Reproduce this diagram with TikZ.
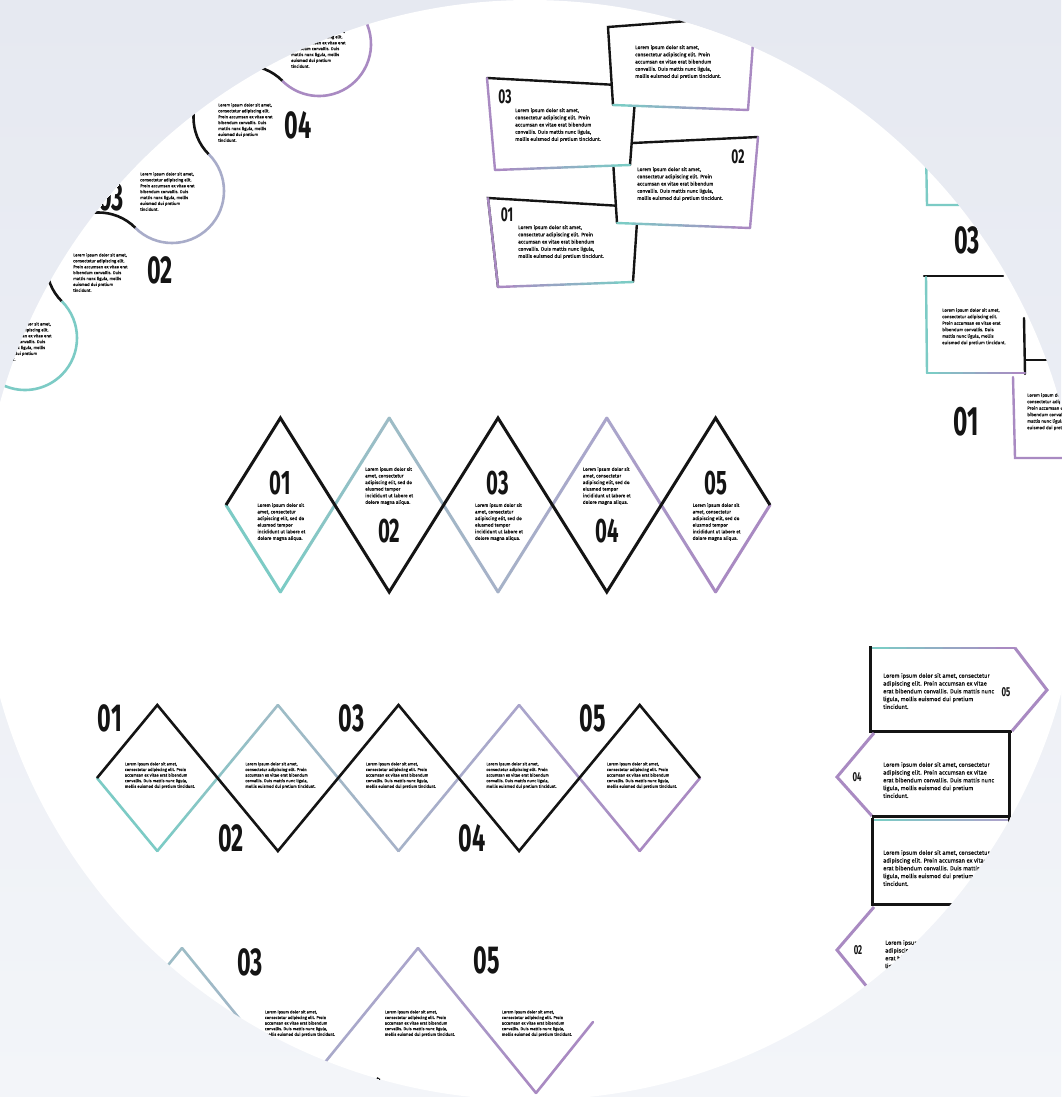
\documentclass[tikz,border=0pt]{standalone}
\usepackage{fontspec}
\setmainfont{Fira Sans}
\newfontfamily\parafont{Fira Sans}[FakeBold=0.5]
\usetikzlibrary{calc}
\definecolor{bgtop}{HTML}{E6E9F1}
\definecolor{bgbot}{HTML}{F3F5F9}
\definecolor{ink}{HTML}{141414}
\definecolor{txt}{HTML}{0E0E0E}
\definecolor{cteal}{HTML}{7CCBC5}
\definecolor{ctg}{HTML}{9DBCC6}
\definecolor{cslate}{HTML}{A6B2C8}
\definecolor{clav}{HTML}{AAA5CB}
\definecolor{cpur}{HTML}{A98AC2}
\newcommand\gradline[5][2.5]{%
  \foreach \grI in {0,...,7}{%
    \pgfmathsetmacro\grA{\grI/8}%
    \pgfmathsetmacro\grB{(\grI+1)/8}%
    \pgfmathtruncatemacro\grP{100-\grI*100/7}%
    \draw[line width=#1pt, line cap=round, draw=#4!\grP!#5] ($#2!\grA!#3$) -- ($#2!\grB!#3$);
  }%
}
\newcommand\bignum[2]{\fontsize{#1}{#1}\selectfont\bfseries\scalebox{0.6}[1]{#2}}
\newcommand\lipA{Lorem ipsum dolor sit amet,\\consectetur adipiscing elit. Proin\\accumsan ex vitae erat bibendum\\convallis. Duis mattis nunc ligula,\\mollis euismod dui pretium tincidunt.}
\newcommand\lipB{Lorem ipsum dolor sit\\amet, consectetur\\adipiscing elit, sed do\\eiusmod tempor\\incididunt ut labore et\\dolore magna aliqua.}
\newcommand\lipC{Lorem ipsum dolor sit amet,\\consectetur adipiscing elit.\\Proin accumsan ex vitae erat\\bibendum convallis. Duis\\mattis nunc ligula, mollis\\euismod dui pretium\\tincidunt.}
\newcommand\lipD{Lorem ipsum dolor sit amet,\\consectetur adipiscing elit.\\Proin accumsan ex vitae erat\\bibendum convallis. Duis\\mattis nunc ligula, mollis\\euismod dui pretium tincidunt.}
\newcommand\lipE{Lorem ipsum dolor sit amet, consectetur\\adipiscing elit. Proin accumsan ex vitae\\erat bibendum convallis. Duis mattis nunc\\ligula, mollis euismod dui pretium\\tincidunt.}
\tikzset{
  para/.style={inner sep=0pt, align=left, text=txt},
  numlbl/.style={inner sep=0pt, text=ink},
  blkline/.style={draw=ink, line width=2.6pt},
  boxline/.style={line width=2.4pt, line cap=round},
}
\begin{document}
\begin{tikzpicture}[x=1pt, y=-1pt]
\useasboundingbox (0,0) rectangle (1061,1097);
\shade[top color=bgtop, bottom color=bgbot] (0,0) rectangle (1061,1097);
\begin{scope}
\clip (530,550) circle[radius=550];
\fill[white] (-20,-20) rectangle (1100,1120);

% ---------- top-left chain of circles ----------
\draw[cpur, line width=2.6pt] (319,44) ++(-100:52) arc[start angle=-100, end angle=135, radius=52];
\draw[blkline] (245.5,117.5) ++(-45:52) arc[start angle=-45, end angle=-225, radius=52];
\draw[cslate!50!clav, line width=2.6pt] (172,191) ++(-45:52) arc[start angle=-45, end angle=135, radius=52];
\draw[blkline] (98.5,264.5) ++(-45:52) arc[start angle=-45, end angle=-225, radius=52];
\draw[cteal, line width=2.6pt] (25,338) ++(-45:52) arc[start angle=-45, end angle=160, radius=52];
\node[para, anchor=north west, font=\parafont\fontsize{4.2}{5.9}\selectfont] (c5t) at (291,29) {\lipC};
\node[para, anchor=north west, font=\parafont\fontsize{4.2}{5.9}\selectfont] (c4t) at (218,103) {\lipC};
\node[para, anchor=north west, font=\parafont\fontsize{4.2}{5.9}\selectfont] (c3t) at (140,172) {\lipC};
\node[para, anchor=north west, font=\parafont\fontsize{4.2}{5.9}\selectfont] (c2t) at (73,253) {\lipC};
\node[para, anchor=north west, font=\parafont\fontsize{4.2}{5.9}\selectfont] (c1t) at (-3,322) {\lipC};
\node[numlbl] (c4n) at (298,125) {\bignum{39}{04}};
\node[numlbl] (c3n) at (111,197) {\bignum{39}{03}};
\node[numlbl] (c2n) at (160,270) {\bignum{39}{02}};

% ---------- top-centre stacked boxes (D, C, B, A) ----------
\fill[white] (488,198) -- (638,207) -- (633,282) -- (498,287) -- cycle;
\draw[boxline, ink] (498,287) -- (488,198) -- (638,207) -- (633,282);
\draw[boxline, cpur] (488,198) -- (498,287);
\gradline[2.4]{(498,287)}{(633,282)}{cpur}{cteal}
\node[numlbl] (bdn) at (507,215) {\bignum{20}{01}};
\node[para, anchor=north west, font=\parafont\fontsize{5}{7.2}\selectfont] (bdt) at (518,225) {\lipA};

\fill[white] (612,144) -- (758,137) -- (750,228) -- (617,223) -- cycle;
\draw[boxline, ink] (617,223) -- (612,144) -- (758,137);
\draw[boxline, cpur] (758,137) -- (750,228);
\gradline[2.4]{(617,223)}{(750,228)}{cteal}{cpur}
\node[numlbl] (bcn) at (738,157) {\bignum{20}{02}};
\node[para, anchor=north west, font=\parafont\fontsize{5}{7.2}\selectfont] (bct) at (637,167) {\lipA};

\fill[white] (487,78) -- (636,86) -- (630,165) -- (495,170) -- cycle;
\draw[boxline, ink] (487,78) -- (636,86) -- (630,165);
\draw[boxline, cpur] (487,78) -- (495,170);
\gradline[2.4]{(495,170)}{(630,165)}{cpur}{cteal}
\node[numlbl] (bbn) at (505,97) {\bignum{20}{03}};
\node[para, anchor=north west, font=\parafont\fontsize{5}{7.2}\selectfont] (bbt) at (515,108) {\lipA};

\fill[white] (608,27) -- (755,16) -- (748,110) -- (613,105) -- cycle;
\draw[boxline, ink] (755,16) -- (608,27) -- (613,105);
\draw[boxline, cpur] (755,16) -- (748,110);
\gradline[2.4]{(613,105)}{(748,110)}{cteal}{cpur}
\node[para, anchor=north west, font=\parafont\fontsize{5}{7.2}\selectfont] (bat) at (635,45) {\lipA};

% ---------- top-right boxes ----------
\draw[boxline, cteal] (926,150) -- (927,205) -- (965,205);
\node[numlbl] (rn3) at (967,240) {\bignum{39}{03}};
\draw[boxline, ink] (1025,360) -- (1090,360);
\draw[boxline, cpur] (1013,377) -- (1015,458) -- (1090,458);
\node[para, anchor=north west, font=\parafont\fontsize{4.5}{6.5}\selectfont] (rt1) at (1027,393) {\lipD};
\node[numlbl] (rn1) at (966,422) {\bignum{41}{01}};
\draw[boxline, ink] (924,276) -- (1003,276);
\draw[boxline, ink] (1024,318) -- (1025,374);
\draw[boxline, cteal] (926,277) -- (927,373);
\gradline[2.4]{(927,373)}{(1025,373)}{cteal}{cpur}
\node[para, anchor=north west, font=\parafont\fontsize{4.5}{6.5}\selectfont] (rt3) at (942,308) {\lipD};

% ---------- middle diamond row ----------
\gradline[3]{(226,505)}{(280.4,592)}{cteal}{cteal}
\gradline[3]{(280.4,592)}{(389.2,418)}{cteal}{ctg}
\gradline[3]{(389.2,418)}{(498,592)}{ctg}{cslate}
\gradline[3]{(498,592)}{(606.8,418)}{cslate}{clav}
\gradline[3]{(606.8,418)}{(715.6,592)}{clav}{cpur}
\gradline[3]{(715.6,592)}{(770,505)}{cpur}{cpur}
\draw[ink, line width=3pt] (226,505) -- (280.4,418) -- (389.2,592) -- (498,418) -- (606.8,592) -- (715.6,418) -- (770,505);
\node[numlbl] (m1n) at (280.4,483) {\bignum{34}{01}};
\node[numlbl] (m2n) at (389.2,531) {\bignum{34}{02}};
\node[numlbl] (m3n) at (498,483) {\bignum{34}{03}};
\node[numlbl] (m4n) at (606.8,531) {\bignum{34}{04}};
\node[numlbl] (m5n) at (715.6,483) {\bignum{34}{05}};
\node[para, anchor=north, font=\parafont\fontsize{4.7}{6.6}\selectfont] (m1t) at (281.4,503) {\lipB};
\node[para, anchor=north, font=\parafont\fontsize{4.7}{6.6}\selectfont] (m2t) at (389.2,467) {\lipB};
\node[para, anchor=north, font=\parafont\fontsize{4.7}{6.6}\selectfont] (m3t) at (499,503) {\lipB};
\node[para, anchor=north, font=\parafont\fontsize{4.7}{6.6}\selectfont] (m4t) at (606.8,467) {\lipB};
\node[para, anchor=north, font=\parafont\fontsize{4.7}{6.6}\selectfont] (m5t) at (716.6,503) {\lipB};

% ---------- second diamond row ----------
\gradline[2.6]{(97,778)}{(157.3,851)}{cteal}{cteal}
\gradline[2.6]{(157.3,851)}{(277.9,705)}{cteal}{ctg}
\gradline[2.6]{(277.9,705)}{(398.5,851)}{ctg}{cslate}
\gradline[2.6]{(398.5,851)}{(519.1,705)}{cslate}{clav}
\gradline[2.6]{(519.1,705)}{(639.7,851)}{clav}{cpur}
\gradline[2.6]{(639.7,851)}{(700,778)}{cpur}{cpur}
\draw[ink, line width=2.6pt] (97,778) -- (157.3,705) -- (277.9,851) -- (398.5,705) -- (519.1,851) -- (639.7,705) -- (700,778);
\node[numlbl] (s1n) at (110,718) {\bignum{39}{01}};
\node[numlbl] (s2n) at (231,838) {\bignum{39}{02}};
\node[numlbl] (s3n) at (351.5,718) {\bignum{39}{03}};
\node[numlbl] (s4n) at (472,838) {\bignum{39}{04}};
\node[numlbl] (s5n) at (592.7,718) {\bignum{39}{05}};
\node[para, anchor=north, font=\parafont\fontsize{4.1}{5.6}\selectfont] (s1t) at (160,762) {\lipA};
\node[para, anchor=north, font=\parafont\fontsize{4.1}{5.6}\selectfont] (s2t) at (280.5,762) {\lipA};
\node[para, anchor=north, font=\parafont\fontsize{4.1}{5.6}\selectfont] (s3t) at (401,762) {\lipA};
\node[para, anchor=north, font=\parafont\fontsize{4.1}{5.6}\selectfont] (s4t) at (521.5,762) {\lipA};
\node[para, anchor=north, font=\parafont\fontsize{4.1}{5.6}\selectfont] (s5t) at (642,762) {\lipA};

% ---------- bottom zigzag ----------
\gradline[2.6]{(64,1093)}{(182,948)}{ctg}{ctg}
\gradline[2.6]{(182,948)}{(300,1093)}{ctg}{cslate}
\gradline[2.6]{(300,1093)}{(418,948)}{cslate!40!clav}{clav}
\gradline[2.6]{(418,948)}{(536,1093)}{clav}{cpur}
\gradline[2.6]{(536,1093)}{(593,1022)}{cpur}{cpur}
\node[numlbl] (z3n) at (250,962) {\bignum{39}{03}};
\node[numlbl] (z5n) at (487,960) {\bignum{39}{05}};
\node[numlbl] (z4n) at (372,1091) {\bignum{39}{04}};
\node[para, anchor=north, font=\parafont\fontsize{4.1}{5.6}\selectfont] (z1t) at (300,1010) {\lipA};
\node[para, anchor=north, font=\parafont\fontsize{4.1}{5.6}\selectfont] (z2t) at (420,1010) {\lipA};
\node[para, anchor=north, font=\parafont\fontsize{4.1}{5.6}\selectfont] (z3t) at (537,1010) {\lipA};

% ---------- arrow boxes ----------
\gradline[2.6]{(872,648)}{(1015,648)}{cteal}{cpur}
\draw[ink, line width=3pt] (870,646) -- (870,731) -- (1012,731);
\draw[cpur, line width=3pt, line join=miter] (1015,648) -- (1047,690) -- (1012,731);
\node[numlbl] (a5n) at (1006,692) {\bignum{13}{05}};
\node[para, anchor=north west, font=\parafont\fontsize{5.8}{7.8}\selectfont] (a5t) at (883,673) {\lipE};

\draw[cpur, line width=3pt, line join=miter] (874,733) -- (837,777) -- (872,816);
\draw[ink, line width=3pt] (1009,731) -- (1009,816) -- (872,816);
\node[numlbl] (a4n) at (857,777) {\bignum{13}{04}};
\node[para, anchor=north west, font=\parafont\fontsize{5.8}{7.8}\selectfont] (a4t) at (883,762) {\lipE};

\gradline[1.8]{(874,820)}{(1008,820)}{cteal}{clav}
\draw[ink, line width=3pt] (872,818) -- (872,904) -- (1009,904) -- (1009,818);
\node[para, anchor=north west, font=\parafont\fontsize{5.8}{7.8}\selectfont] (a3t) at (883,850) {\lipE};

\draw[cpur, line width=3pt, line join=miter] (874,907) -- (837,950) -- (872,993);
\node[numlbl] (a2n) at (858,950) {\bignum{13}{02}};
\node[para, anchor=north west, font=\parafont\fontsize{5.8}{7.8}\selectfont] (a2t) at (885,940) {\lipE};
\end{scope}
\end{tikzpicture}
\end{document}
